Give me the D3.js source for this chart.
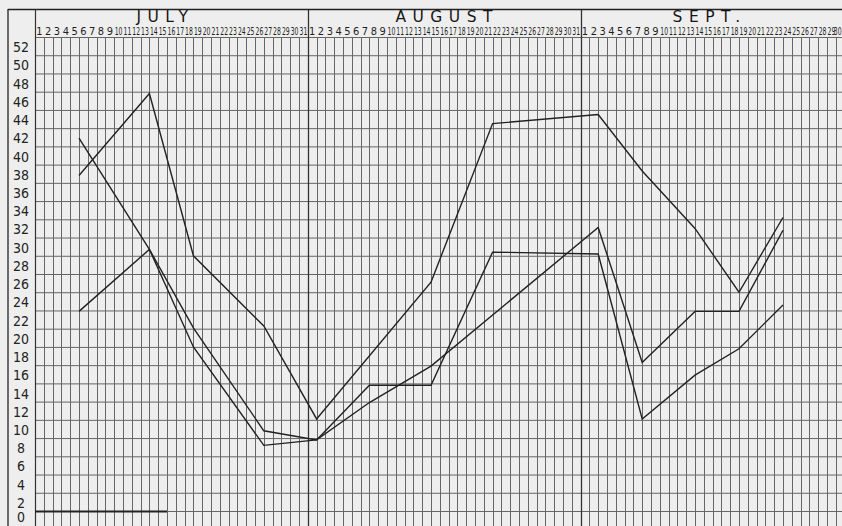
<!DOCTYPE html>
<html>
<head>
<meta charset="utf-8">
<script src="https://cdn.jsdelivr.net/npm/d3@7"></script>
<style>
  html, body { margin: 0; padding: 0; background: #eeeeee; }
  svg { display: block; }
  .ylab { font-family: "DejaVu Sans Condensed", "Liberation Sans Narrow", "DejaVu Sans", sans-serif; font-stretch: condensed; font-size: 14px; fill: #222; }
  .day { font-family: "DejaVu Sans Condensed", "Liberation Sans Narrow", "DejaVu Sans", sans-serif; font-stretch: condensed; font-size: 11px; fill: #1e1e1e; }
  .month { font-family: "DejaVu Sans", sans-serif; font-size: 15.5px; letter-spacing: 6.5px; fill: #161616; }
</style>
</head>
<body>
<svg id="chart" width="842" height="526"></svg>
<script>
// ---- data ----
const monthNames = ["JULY", "AUGUST", "SEPT."];
const monthDays = [31, 31, 30];
const yTicks = [0, 2, 4, 6, 8, 10, 12, 14, 16, 18, 20, 22, 24, 26, 28, 30, 32, 34, 36, 38, 40, 42, 44, 46, 48, 50, 52];

// day offsets counted from the start of July 1
const seriesADays   = [5, 13, 18, 26, 32, 45, 52, 64, 69, 75, 80, 85];
const seriesAValues = [36.8, 45.8, 28.0, 20.3, 10.1, 25.1, 42.5, 43.5, 37.3, 31.0, 24.0, 32.2];

const seriesBDays   = [5, 13, 18, 26, 32, 38, 45, 52, 64, 69, 75, 80, 85];
const seriesBValues = [40.9, 28.7, 20.1, 8.8, 7.8, 13.8, 13.8, 28.4, 28.2, 10.1, 14.9, 17.8, 22.6];

const seriesCDays   = [5, 13, 18, 26, 32, 38, 45, 64, 69, 75, 80, 85];
const seriesCValues = [21.9, 28.7, 18.0, 7.2, 7.8, 11.9, 15.9, 31.1, 16.3, 21.9, 21.9, 30.8];

// ---- layout ----
const W = 842, H = 526;
const totalDays = d3.sum(monthDays);
const svg = d3.select("#chart");
const x = d3.scaleLinear().domain([0, totalDays]).range([35, 35 + totalDays * 8.8]);
const y = d3.scaleLinear().domain([0, 52]).range([511, 37]);

const gridColor = "#666666";

// horizontal grid
svg.append("g").selectAll("line").data(yTicks).join("line")
  .attr("x1", x(0)).attr("x2", W)
  .attr("y1", d => y(d) + 0.5).attr("y2", d => y(d) + 0.5)
  .attr("stroke", gridColor).attr("stroke-width", 1);

// vertical grid (one column per day)
svg.append("g").selectAll("line").data(d3.range(0, totalDays + 1)).join("line")
  .attr("x1", d => Math.round(x(d)) + 0.5).attr("x2", d => Math.round(x(d)) + 0.5)
  .attr("y1", y(52)).attr("y2", H)
  .attr("stroke", gridColor).attr("stroke-width", 1);

// month boundaries
const monthStarts = monthDays.map((d, i) => d3.sum(monthDays.slice(0, i)));
svg.append("g").selectAll("line").data(monthStarts.slice(1)).join("line")
  .attr("x1", d => Math.round(x(d)) + 0.5).attr("x2", d => Math.round(x(d)) + 0.5)
  .attr("y1", 9).attr("y2", H)
  .attr("stroke", "#333").attr("stroke-width", 1.3);

// frame
svg.append("line").attr("x1", 8).attr("x2", W).attr("y1", 9.5).attr("y2", 9.5)
  .attr("stroke", "#222").attr("stroke-width", 1.5);
svg.append("line").attr("x1", 8).attr("x2", 8).attr("y1", 9).attr("y2", H)
  .attr("stroke", "#222").attr("stroke-width", 1.3);
svg.append("line").attr("x1", x(0) + 0.5).attr("x2", x(0) + 0.5).attr("y1", 9).attr("y2", H)
  .attr("stroke", "#333").attr("stroke-width", 1.2);
// heavier baseline stub
svg.append("line").attr("x1", x(0)).attr("x2", x(15)).attr("y1", y(0) + 0.5).attr("y2", y(0) + 0.5)
  .attr("stroke", "#222").attr("stroke-width", 1.8);

// y labels via axis
const yAxis = d3.axisLeft(y).tickValues(yTicks).tickSize(0).tickPadding(0).tickFormat(d3.format("d"));
const yg = svg.append("g").attr("transform", "translate(21,0)").call(yAxis);
yg.select(".domain").remove();
yg.selectAll("text").attr("class", "ylab").attr("text-anchor", "middle")
  .attr("dy", d => d === 0 ? "0.78em" : "1.05em").attr("font-family", null).attr("font-size", null);

// day numbers (two-digit ones squeezed horizontally into their column)
const dayLabels = [];
monthDays.forEach(n => { for (let i = 1; i <= n; i++) dayLabels.push(String(i)); });
const dg = svg.append("g");
dg.selectAll("text").data(dayLabels).join("text")
  .attr("class", "day")
  .attr("text-anchor", "middle")
  .attr("transform", (d, i) => {
    const cx = Math.min(x(i + 0.5), W - 4.3);
    return `translate(${cx},35) scale(${d.length > 1 ? 0.62 : 1},1)`;
  })
  .text(d => d);

// month names
const monthOffsets = [-6, 3, -3];
svg.append("g").selectAll("text").data(monthNames).join("text")
  .attr("class", "month")
  .attr("x", (d, i) => x(monthStarts[i] + monthDays[i] / 2) + monthOffsets[i])
  .attr("y", 21.5)
  .attr("text-anchor", "middle")
  .text(d => d);

// series lines
const line = d3.line().x(d => x(d[0])).y(d => y(d[1]));
const series = [
  d3.zip(seriesADays, seriesAValues),
  d3.zip(seriesBDays, seriesBValues),
  d3.zip(seriesCDays, seriesCValues)
];
svg.append("g").selectAll("path").data(series).join("path")
  .attr("d", line)
  .attr("fill", "none")
  .attr("stroke", "#222")
  .attr("stroke-width", 1.4)
  .attr("stroke-linejoin", "miter");
</script>
</body>
</html>
